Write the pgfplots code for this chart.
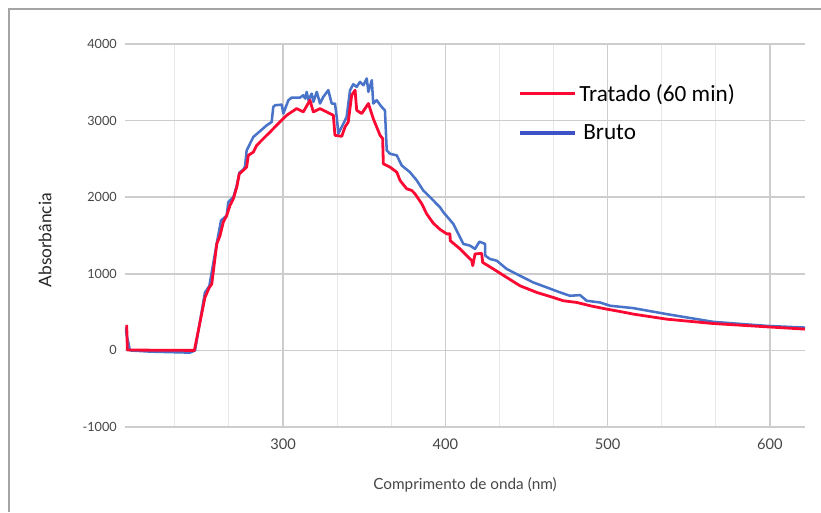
\documentclass[border=0pt]{standalone}
\usepackage{pgfplots}
\pgfplotsset{compat=1.18}
\usepackage{fontspec}
\setmainfont{Lato}
\newfontfamily\legfont{Carlito}
\definecolor{cred}{RGB}{250,10,50}
\definecolor{cblue}{RGB}{72,115,200}
\definecolor{lblue}{RGB}{62,82,200}
\definecolor{tickgray}{RGB}{70,70,70}
\definecolor{majgrid}{RGB}{205,205,205}
\definecolor{mingrid}{RGB}{230,230,230}
\definecolor{framegray}{RGB}{165,165,165}
\begin{document}
\begin{tikzpicture}
\path[use as bounding box] (-93.75pt,-63.75pt) rectangle (522pt,320.25pt);
\draw[framegray, line width=1.5pt] (-87pt,-63.75pt) -- (-87pt,313.5pt) -- (522pt,313.5pt);
\begin{axis}[
  at={(0,0)}, anchor=south west,
  scale only axis, width=510pt, height=287.25pt,
  xmin=202.65, xmax=621.6, ymin=-1000, ymax=4000,
  axis line style={draw=none},
  xtick={300,400,500,600},
  minor xtick={233.33,266.67,333.33,366.67,433.33,466.67,533.33,566.67},
  ytick={-1000,1000,2000,3000,4000},
  extra y ticks={0},
  extra y tick style={grid style={color=black!72, line width=1.5pt}},
  major tick length=0pt, minor tick length=0pt,
  xmajorgrids, xminorgrids, ymajorgrids,
  major grid style={majgrid, line width=1.2pt},
  minor grid style={mingrid, line width=0.8pt},
  /pgf/number format/assume math mode=true,
  /pgf/number format/set thousands separator={},
  yticklabel style={font=\fontsize{9.5}{11}\selectfont, text=tickgray, anchor=east, inner sep=0pt, xshift=-6pt},
  xticklabel style={font=\fontsize{11}{13}\selectfont, text=tickgray, anchor=center, inner sep=0pt, yshift=-12.75pt},
  xlabel={Comprimento de onda (nm)},
  ylabel={Absorbância},
  xlabel style={font=\fontsize{11.5}{13}\selectfont, text=tickgray, at={(axis description cs:0.5,-0.1514)}, anchor=center, inner sep=0pt},
  ylabel style={font=\fontsize{13}{15}\selectfont, text=black!85, at={(axis description cs:-0.1176,0.488)}, anchor=center, inner sep=0pt},
  clip=true,
  legend style={draw=none, fill=none, at={(axis description cs:0.5785,0.8995)}, anchor=north west, font=\legfont\fontsize{17.4}{20}\selectfont, row sep=14pt, inner sep=0pt, nodes={inner sep=1pt}},
  legend cell align=left,
  legend image code/.code={\draw[#1, line width=2.6pt] (0pt,0pt) -- (41pt,0pt); \path (43pt,0pt);},
]
\addplot[cblue, line width=1.9pt, line join=round, forget plot] coordinates {
(202.7,300) (205.7,0) (218.1,-16) (242.7,-29) (245.8,0) (251.9,756) (254.6,840) (259.2,1400) (261.8,1695) (265.3,1760) (266.3,1935) (269.4,2000) (271.5,2150) (273.1,2320) (275.5,2360) (276.6,2400) (277.6,2611) (281.7,2786) (290,2939) (293,2982) (294,3178) (295.1,3200) (299.2,3209) (300.2,3092) (303.3,3266) (305.4,3301) (310.5,3301) (312.5,3331) (313.6,3288) (314.6,3375) (315.6,3266) (317.7,3353) (318.7,3244) (320.8,3375) (322.8,3223) (324.8,3309) (327.9,3397) (330,3223) (332,3223) (333.1,3047) (334.1,2830) (337.2,2961) (339.2,3047) (341.3,3397) (343.3,3475) (345.4,3440) (347.4,3505) (349.5,3462) (351.6,3550) (352.6,3375) (354.7,3528) (355.6,3223) (357.7,3266) (360.8,3178) (362.8,3135) (363.9,2611) (365.9,2568) (370.1,2546) (373.1,2415) (378.2,2327) (382.4,2219) (386.4,2088) (390.6,2000) (396.7,1869) (398.8,1804) (404.9,1652) (411.1,1390) (415.2,1368) (418.3,1325) (421,1420) (424.5,1390) (424.6,1237) (427.5,1194) (431.7,1171) (437.8,1063) (446,975) (454.2,887) (462.5,822) (470.7,757) (476.8,713) (483,722) (487.1,648) (495.3,626) (501.5,583) (515.8,552) (536.4,474) (565.1,373) (598,320) (621.6,298)
};
\addplot[cred, line width=2.1pt, line join=round, forget plot] coordinates {
(203.7,334) (204.1,5) (245.4,0) (251.9,691) (254.6,822) (256.1,866) (259.2,1390) (261.2,1499) (263.2,1673) (265.3,1761) (267.3,1892) (269.4,1979) (271.5,2131) (273.1,2306) (275.5,2350) (277.6,2393) (278.6,2546) (281.7,2589) (283.8,2677) (287.9,2765) (292,2851) (297.1,2961) (302.3,3070) (308.4,3157) (312.5,3113) (316.6,3266) (318.7,3113) (322.8,3157) (331,3070) (332,2808) (336.2,2795) (338.2,2917) (340.2,2982) (342.3,3331) (344.4,3397) (345.4,3135) (348.5,3092) (352.6,3223) (355.6,3026) (359.8,2808) (361.4,2765) (361.8,2437) (365.9,2393) (370.1,2327) (372.1,2219) (376.2,2110) (379.3,2088) (381.3,2045) (385.5,1914) (388.5,1783) (392.6,1660) (396.7,1580) (400.9,1521) (402.9,1521) (403.0,1433) (409.1,1325) (416.3,1171) (416.9,1106) (418.3,1259) (422.4,1267) (423,1149) (429.6,1063) (437.8,953) (446,844) (456.3,757) (466.5,691) (472.7,648) (481,626) (489.2,583) (499.4,539) (507.6,508) (515.8,474) (536.4,408) (565.1,351) (598,308) (621.6,278)
};
\addlegendimage{cred}
\addlegendentry{Tratado (60 min)}
\addlegendimage{lblue}
\addlegendentry{\hspace{3pt}Bruto}
\end{axis}
\end{tikzpicture}
\end{document}
